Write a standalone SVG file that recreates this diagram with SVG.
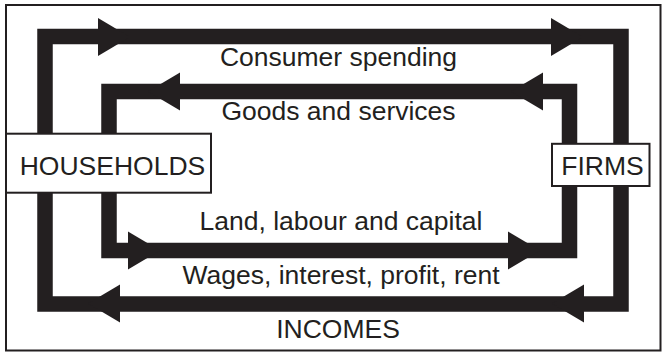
<svg xmlns="http://www.w3.org/2000/svg" width="668" height="354" viewBox="0 0 668 354">
  <style>
    .frame { fill: #ffffff; stroke: #231f20; stroke-width: 2; }
    .flow { fill: none; stroke: #231f20; stroke-width: 15.5; stroke-linejoin: miter; }
    .box { fill: #ffffff; stroke: #231f20; stroke-width: 2; }
    .label { font-family: "Liberation Sans", Arial, sans-serif; font-size: 26.5px; fill: #231f20; text-anchor: middle; }
  </style>
  <defs>
    <!-- arrowhead with its tip at the origin, pointing right -->
    <path id="head" d="M 0 0 L -32 -19 L -32 19 Z" fill="#231f20"/>
  </defs>

  <!-- outer frame -->
  <rect class="frame" x="6" y="5" width="654.5" height="345.5"/>

  <g id="connectors">
    <!-- outer loop: spending out, incomes back -->
    <rect class="flow" x="45" y="36.5" width="576" height="267.5"/>
    <!-- inner loop: goods in, factors of production out -->
    <rect class="flow" x="109" y="91.5" width="460.5" height="159"/>

    <use href="#head" transform="translate(130 37)"/>
    <use href="#head" transform="translate(583 37)"/>
    <use href="#head" transform="translate(148 91.5) rotate(180)"/>
    <use href="#head" transform="translate(511 91.5) rotate(180)"/>
    <use href="#head" transform="translate(160 250.5)"/>
    <use href="#head" transform="translate(540 250.5)"/>
    <use href="#head" transform="translate(88 303.5) rotate(180)"/>
    <use href="#head" transform="translate(552 303.5) rotate(180)"/>

    <text class="label" x="338.5" y="66">Consumer spending</text>
    <text class="label" x="338.5" y="120">Goods and services</text>
    <text class="label" x="341" y="229.5">Land, labour and capital</text>
    <text class="label" x="341" y="283.5">Wages, interest, profit, rent</text>
    <text class="label" x="338" y="338">INCOMES</text>
  </g>

  <g id="households">
    <rect class="box" x="6" y="133.7" width="205" height="59"/>
    <text class="label" x="112.5" y="175">HOUSEHOLDS</text>
  </g>

  <g id="firms">
    <rect class="box" x="552" y="143.8" width="97.5" height="42.2"/>
    <text class="label" x="602.5" y="175">FIRMS</text>
  </g>
</svg>
